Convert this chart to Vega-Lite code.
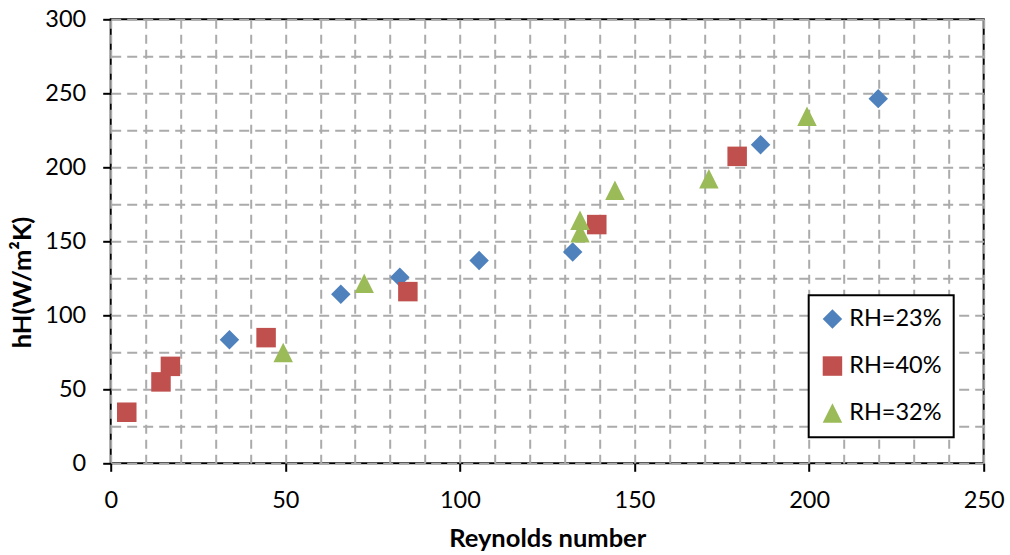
{
  "$schema": "https://vega.github.io/schema/vega-lite/v6.json",
  "width": 873,
  "height": 444,
  "autosize": {"type": "none"},
  "padding": {"left": 110.7, "top": 19.3, "right": 26.3, "bottom": 91.3},
  "background": "white",
  "config": {
    "view": {"stroke": "black", "strokeWidth": 2},
    "font": "Lato",
    "legend": {
      "orient": "none",
      "legendX": 698,
      "legendY": 276,
      "strokeColor": "black",
      "strokeWidth": 2,
      "fillColor": "white",
      "padding": 12,
      "rowPadding": 22,
      "symbolSize": 380,
      "symbolStrokeWidth": 0,
      "symbolOpacity": 1,
      "labelFont": "Lato",
      "labelFontSize": 23.5,
      "labelColor": "black",
      "labelOffset": 5
    }
  },
  "data": {
    "values": [
      {"Re": 34.0, "h": 83.4, "series": "RH=23%"},
      {"Re": 65.9, "h": 114.2, "series": "RH=23%"},
      {"Re": 82.8, "h": 125.7, "series": "RH=23%"},
      {"Re": 105.5, "h": 137.0, "series": "RH=23%"},
      {"Re": 132.3, "h": 142.8, "series": "RH=23%"},
      {"Re": 186.1, "h": 215.3, "series": "RH=23%"},
      {"Re": 219.8, "h": 246.4, "series": "RH=23%"},
      {"Re": 4.6, "h": 34.5, "series": "RH=40%"},
      {"Re": 14.4, "h": 55.0, "series": "RH=40%"},
      {"Re": 17.1, "h": 65.5, "series": "RH=40%"},
      {"Re": 44.5, "h": 84.9, "series": "RH=40%"},
      {"Re": 85.1, "h": 116.0, "series": "RH=40%"},
      {"Re": 139.2, "h": 161.3, "series": "RH=40%"},
      {"Re": 179.4, "h": 207.4, "series": "RH=40%"},
      {"Re": 49.4, "h": 74.8, "series": "RH=32%"},
      {"Re": 72.6, "h": 121.6, "series": "RH=32%"},
      {"Re": 134.4, "h": 164.2, "series": "RH=32%"},
      {"Re": 134.4, "h": 155.7, "series": "RH=32%"},
      {"Re": 144.4, "h": 184.5, "series": "RH=32%"},
      {"Re": 171.3, "h": 192.2, "series": "RH=32%"},
      {"Re": 199.4, "h": 234.5, "series": "RH=32%"}
    ]
  },
  "mark": {"type": "point", "filled": true, "opacity": 1, "size": 380, "strokeWidth": 0},
  "encoding": {
    "x": {
      "field": "Re",
      "type": "quantitative",
      "scale": {"domain": [0, 250], "nice": false, "zero": false},
      "axis": {
        "title": "Reynolds number",
        "values": [0, 10, 20, 30, 40, 50, 60, 70, 80, 90, 100, 110, 120, 130, 140, 150, 160, 170, 180, 190, 200, 210, 220, 230, 240, 250],
        "labelExpr": "datum.value % 50 === 0 ? datum.label : ''",
        "labelOverlap": false,
        "labelFlush": false,
        "tickOpacity": {"condition": {"test": "datum.value % 50 === 0", "value": 1}, "value": 0},
        "tickSize": 8,
        "tickWidth": 2,
        "tickColor": "black",
        "domain": false,
        "grid": true,
        "gridColor": "#ABABAB",
        "gridDash": [9, 6],
        "gridWidth": 2,
        "labelFont": "Lato",
        "labelFontSize": 23.5,
        "labelColor": "black",
        "labelPadding": 17,
        "titleFont": "Lato",
        "titleFontSize": 25.5,
        "titleFontWeight": "bold",
        "titleColor": "black",
        "titleY": 83,
        "titleBaseline": "alphabetic"
      }
    },
    "y": {
      "field": "h",
      "type": "quantitative",
      "scale": {"domain": [0, 300], "nice": false, "zero": false},
      "axis": {
        "title": "hH(W/m²K)",
        "values": [0, 25, 50, 75, 100, 125, 150, 175, 200, 225, 250, 275, 300],
        "labelExpr": "datum.value % 50 === 0 ? datum.label : ''",
        "labelOverlap": false,
        "labelFlush": false,
        "tickOpacity": {"condition": {"test": "datum.value % 50 === 0", "value": 1}, "value": 0},
        "tickSize": 8,
        "tickWidth": 2,
        "tickColor": "black",
        "domain": false,
        "grid": true,
        "gridColor": "#ABABAB",
        "gridDash": [10, 6],
        "gridWidth": 2,
        "labelFont": "Lato",
        "labelFontSize": 23.5,
        "labelColor": "black",
        "labelPadding": 17,
        "titleFont": "Lato",
        "titleFontSize": 25.5,
        "titleFontWeight": "bold",
        "titleColor": "black",
        "titleAngle": -90,
        "titleAlign": "center",
        "titleBaseline": "alphabetic",
        "titleX": -80,
        "titleY": 262.7
      }
    },
    "color": {
      "field": "series",
      "type": "nominal",
      "scale": {"domain": ["RH=23%", "RH=40%", "RH=32%"], "range": ["#4F81BD", "#C0504D", "#9BBB59"]},
      "legend": {"title": null}
    },
    "shape": {
      "field": "series",
      "type": "nominal",
      "scale": {"domain": ["RH=23%", "RH=40%", "RH=32%"], "range": ["diamond", "square", "M0,-1L1,1L-1,1Z"]},
      "legend": {"title": null}
    }
  }
}
